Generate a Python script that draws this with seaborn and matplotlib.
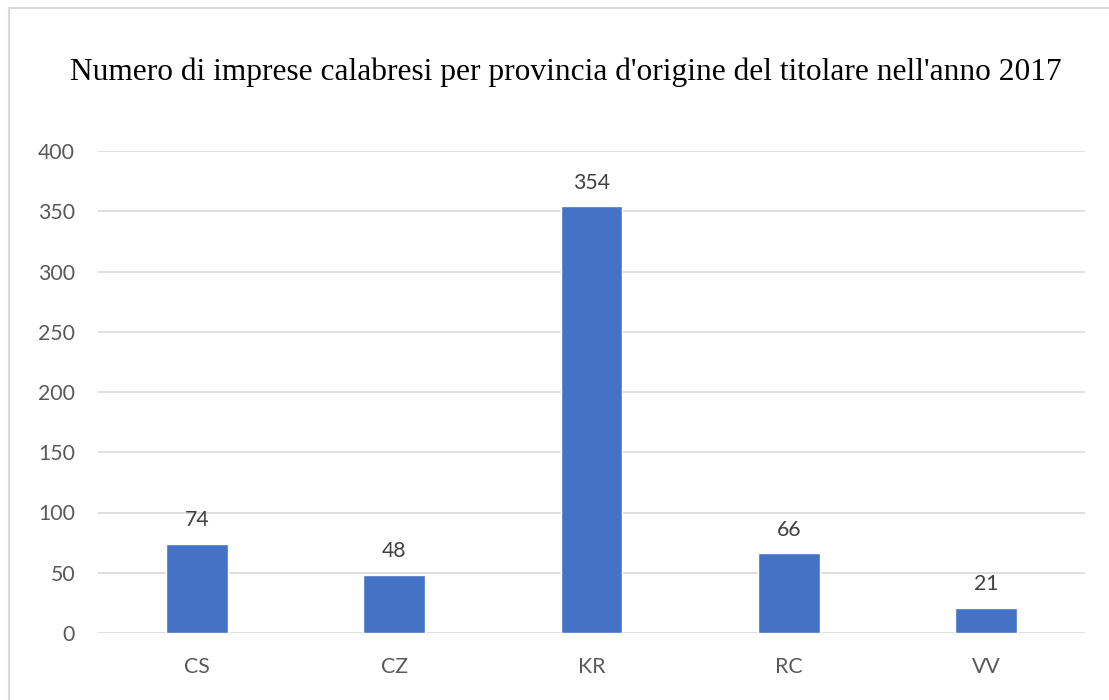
import matplotlib
matplotlib.use("Agg")
import matplotlib.pyplot as plt
from matplotlib.patches import Rectangle
import pandas as pd
import seaborn as sns

# Dati
province = ["CS", "CZ", "KR", "RC", "VV"]
imprese = [74, 48, 354, 66, 21]

TITLE = "Numero di imprese calabresi per provincia d'origine del titolare nell'anno 2017"
BAR_COLOR = "#4472C4"
GRID_COLOR = "#D9D9D9"
TICK_COLOR = "#595959"

sns.set_style("white")
plt.rcParams["font.family"] = ["Lato", "DejaVu Sans"]

df = pd.DataFrame({"Provincia": province, "Imprese": imprese})

fig = plt.figure(figsize=(11.09, 7.00), dpi=100)
ax = fig.add_axes([98 / 1109, 1 - 633 / 700, (1085 - 98) / 1109, (633 - 151) / 700])

sns.barplot(data=df, x="Provincia", y="Imprese", color=BAR_COLOR,
            width=0.314, saturation=1, ax=ax, zorder=3)

ax.set_ylim(0, 400)
ax.set_yticks(range(0, 401, 50))
ax.set_xlim(-0.5, len(province) - 0.5)
ax.grid(axis="y", color=GRID_COLOR, linewidth=1.2, zorder=0)
ax.set_xlabel("")
ax.set_ylabel("")
sns.despine(ax=ax, left=True, right=True, top=True, bottom=True)
ax.tick_params(axis="both", length=0, labelsize=15.3, labelcolor=TICK_COLOR)
ax.tick_params(axis="y", pad=16.5)
ax.tick_params(axis="x", pad=17.5)

# Etichette dei valori
for i, v in enumerate(imprese):
    ax.annotate(str(v), (i, v), xytext=(0, 10), textcoords="offset points",
                ha="center", va="bottom", fontsize=15.3, color="#404040")

fig.text(566 / 1109, 1 - 72 / 700, TITLE, ha="center", va="center",
         fontsize=22.6, family=["Liberation Serif", "DejaVu Serif"], color="black")

# Cornice esterna
fig.patches.append(Rectangle((9 / 1109, -0.1), 1.2, 1 - 8 / 700 + 0.1,
                             transform=fig.transFigure, fill=False,
                             edgecolor=GRID_COLOR, linewidth=1.5))

fig.savefig("out.png", dpi=100)
